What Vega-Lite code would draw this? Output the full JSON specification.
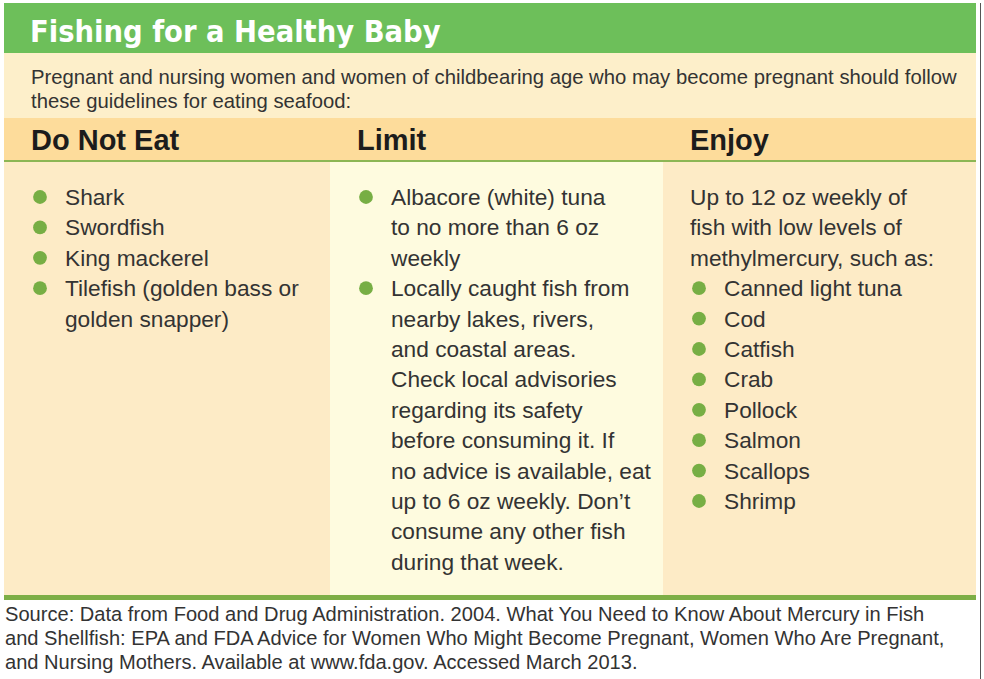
{
  "$schema": "https://vega.github.io/schema/vega-lite/v6.json",
  "padding": {"left": 4, "top": 3, "right": 0, "bottom": 0},
  "background": "white",
  "config": {
    "view": {"stroke": null},
    "concat": {"spacing": 0},
    "text": {"font": "Liberation Sans", "color": "#333333", "align": "left", "baseline": "alphabetic"}
  },
  "datasets": {
    "title": [{"line": 1, "level": 0, "text": "Fishing for a Healthy Baby"}],
    "intro": [
      {"line": 1, "level": 0, "text": "Pregnant and nursing women and women of childbearing age who may become pregnant should follow"},
      {"line": 2, "level": 0, "text": "these guidelines for eating seafood:"}
    ],
    "heads": [
      {"col": "Do Not Eat", "line": 1, "level": 0, "text": "Do Not Eat"},
      {"col": "Limit", "line": 1, "level": 0, "text": "Limit"},
      {"col": "Enjoy", "line": 1, "level": 0, "text": "Enjoy"}
    ],
    "body": [
      {"col": "Do Not Eat", "line": 1, "level": 1, "bullet": true, "text": "Shark"},
      {"col": "Do Not Eat", "line": 2, "level": 1, "bullet": true, "text": "Swordfish"},
      {"col": "Do Not Eat", "line": 3, "level": 1, "bullet": true, "text": "King mackerel"},
      {"col": "Do Not Eat", "line": 4, "level": 1, "bullet": true, "text": "Tilefish (golden bass or"},
      {"col": "Do Not Eat", "line": 5, "level": 1, "bullet": false, "text": "golden snapper)"},
      {"col": "Limit", "line": 1, "level": 1, "bullet": true, "text": "Albacore (white) tuna"},
      {"col": "Limit", "line": 2, "level": 1, "bullet": false, "text": "to no more than 6 oz"},
      {"col": "Limit", "line": 3, "level": 1, "bullet": false, "text": "weekly"},
      {"col": "Limit", "line": 4, "level": 1, "bullet": true, "text": "Locally caught fish from"},
      {"col": "Limit", "line": 5, "level": 1, "bullet": false, "text": "nearby lakes, rivers,"},
      {"col": "Limit", "line": 6, "level": 1, "bullet": false, "text": "and coastal areas."},
      {"col": "Limit", "line": 7, "level": 1, "bullet": false, "text": "Check local advisories"},
      {"col": "Limit", "line": 8, "level": 1, "bullet": false, "text": "regarding its safety"},
      {"col": "Limit", "line": 9, "level": 1, "bullet": false, "text": "before consuming it. If"},
      {"col": "Limit", "line": 10, "level": 1, "bullet": false, "text": "no advice is available, eat"},
      {"col": "Limit", "line": 11, "level": 1, "bullet": false, "text": "up to 6 oz weekly. Don’t"},
      {"col": "Limit", "line": 12, "level": 1, "bullet": false, "text": "consume any other fish"},
      {"col": "Limit", "line": 13, "level": 1, "bullet": false, "text": "during that week."},
      {"col": "Enjoy", "line": 1, "level": 0, "bullet": false, "text": "Up to 12 oz weekly of"},
      {"col": "Enjoy", "line": 2, "level": 0, "bullet": false, "text": "fish with low levels of"},
      {"col": "Enjoy", "line": 3, "level": 0, "bullet": false, "text": "methylmercury, such as:"},
      {"col": "Enjoy", "line": 4, "level": 1, "bullet": true, "text": "Canned light tuna"},
      {"col": "Enjoy", "line": 5, "level": 1, "bullet": true, "text": "Cod"},
      {"col": "Enjoy", "line": 6, "level": 1, "bullet": true, "text": "Catfish"},
      {"col": "Enjoy", "line": 7, "level": 1, "bullet": true, "text": "Crab"},
      {"col": "Enjoy", "line": 8, "level": 1, "bullet": true, "text": "Pollock"},
      {"col": "Enjoy", "line": 9, "level": 1, "bullet": true, "text": "Salmon"},
      {"col": "Enjoy", "line": 10, "level": 1, "bullet": true, "text": "Scallops"},
      {"col": "Enjoy", "line": 11, "level": 1, "bullet": true, "text": "Shrimp"}
    ],
    "source": [
      {"line": 1, "level": 0, "text": "Source: Data from Food and Drug Administration. 2004. What You Need to Know About Mercury in Fish"},
      {"line": 2, "level": 0, "text": "and Shellfish: EPA and FDA Advice for Women Who Might Become Pregnant, Women Who Are Pregnant,"},
      {"line": 3, "level": 0, "text": "and Nursing Mothers. Available at www.fda.gov. Accessed March 2013."}
    ],
    "blank": [{"part": "rule"}]
  },
  "hconcat": [
    {
      "spacing": 0,
      "vconcat": [
        {
          "width": 972, "height": 50,
          "view": {"fill": "#6dbf5a", "stroke": null},
          "data": {"name": "title"},
          "mark": {"type": "text", "font": "DejaVu Sans Condensed, Liberation Sans", "fontWeight": "bold", "fontSize": 30.5, "color": "#ffffff"},
          "encoding": {
            "x": {"field": "level", "type": "quantitative", "scale": {"domain": [0, 1], "range": [26, 60]}, "axis": null},
            "y": {"field": "line", "type": "quantitative", "scale": {"domain": [1, 2], "range": [39, 63]}, "axis": null},
            "text": {"field": "text"}
          }
        },
        {
          "width": 972, "height": 65,
          "view": {"fill": "#fdefca", "stroke": null},
          "data": {"name": "intro"},
          "mark": {"type": "text", "fontSize": 20.3},
          "encoding": {
            "x": {"field": "level", "type": "quantitative", "scale": {"domain": [0, 1], "range": [27, 61]}, "axis": null},
            "y": {"field": "line", "type": "quantitative", "scale": {"domain": [1, 2], "range": [31, 55]}, "axis": null},
            "text": {"field": "text"}
          }
        },
        {
          "spacing": 0,
          "hconcat": [
            {
              "spacing": 0,
              "vconcat": [
                {
                  "width": 326, "height": 42,
                  "view": {"fill": "#fddc9b", "stroke": null},
                  "data": {"name": "heads"},
                  "transform": [{"filter": "datum.col === 'Do Not Eat'"}],
                  "mark": {"type": "text", "fontSize": 29, "fontWeight": "bold", "color": "#1c1c1c"},
                  "encoding": {
                    "x": {"field": "level", "type": "quantitative", "scale": {"domain": [0, 1], "range": [27, 61]}, "axis": null},
                    "y": {"field": "line", "type": "quantitative", "scale": {"domain": [1, 2], "range": [32, 62]}, "axis": null},
                    "text": {"field": "text"}
                  }
                },
                {
                  "width": 326, "height": 2,
                  "data": {"name": "blank"},
                  "mark": {"type": "rect", "color": "#8cb654"},
                  "encoding": {}
                },
                {
                  "width": 326, "height": 433,
                  "view": {"fill": "#fdebc6", "stroke": null},
                  "data": {"name": "body"},
                  "transform": [{"filter": "datum.col === 'Do Not Eat'"}],
                  "layer": [
                    {
                      "transform": [{"filter": "datum.bullet"}],
                      "mark": {"type": "circle", "size": 190, "opacity": 1, "color": "#77ae44", "xOffset": -25, "yOffset": -8},
                      "encoding": {
                        "x": {"field": "level", "type": "quantitative", "scale": {"domain": [0, 1], "range": [27, 61]}, "axis": null},
                        "y": {"field": "line", "type": "quantitative", "scale": {"domain": [1, 13], "range": [43, 407.8]}, "axis": null}
                      }
                    },
                    {
                      "mark": {"type": "text", "fontSize": 22.7},
                      "encoding": {
                        "x": {"field": "level", "type": "quantitative", "scale": {"domain": [0, 1], "range": [27, 61]}, "axis": null},
                        "y": {"field": "line", "type": "quantitative", "scale": {"domain": [1, 13], "range": [43, 407.8]}, "axis": null},
                        "text": {"field": "text"}
                      }
                    }
                  ]
                }
              ]
            },
            {
              "spacing": 0,
              "vconcat": [
                {
                  "width": 333, "height": 42,
                  "view": {"fill": "#fddc9b", "stroke": null},
                  "data": {"name": "heads"},
                  "transform": [{"filter": "datum.col === 'Limit'"}],
                  "mark": {"type": "text", "fontSize": 29, "fontWeight": "bold", "color": "#1c1c1c"},
                  "encoding": {
                    "x": {"field": "level", "type": "quantitative", "scale": {"domain": [0, 1], "range": [27, 61]}, "axis": null},
                    "y": {"field": "line", "type": "quantitative", "scale": {"domain": [1, 2], "range": [32, 62]}, "axis": null},
                    "text": {"field": "text"}
                  }
                },
                {
                  "width": 333, "height": 2,
                  "data": {"name": "blank"},
                  "mark": {"type": "rect", "color": "#8cb654"},
                  "encoding": {}
                },
                {
                  "width": 333, "height": 433,
                  "view": {"fill": "#fefbdf", "stroke": null},
                  "data": {"name": "body"},
                  "transform": [{"filter": "datum.col === 'Limit'"}],
                  "layer": [
                    {
                      "transform": [{"filter": "datum.bullet"}],
                      "mark": {"type": "circle", "size": 190, "opacity": 1, "color": "#77ae44", "xOffset": -25, "yOffset": -8},
                      "encoding": {
                        "x": {"field": "level", "type": "quantitative", "scale": {"domain": [0, 1], "range": [27, 61]}, "axis": null},
                        "y": {"field": "line", "type": "quantitative", "scale": {"domain": [1, 13], "range": [43, 407.8]}, "axis": null}
                      }
                    },
                    {
                      "mark": {"type": "text", "fontSize": 22.7},
                      "encoding": {
                        "x": {"field": "level", "type": "quantitative", "scale": {"domain": [0, 1], "range": [27, 61]}, "axis": null},
                        "y": {"field": "line", "type": "quantitative", "scale": {"domain": [1, 13], "range": [43, 407.8]}, "axis": null},
                        "text": {"field": "text"}
                      }
                    }
                  ]
                }
              ]
            },
            {
              "spacing": 0,
              "vconcat": [
                {
                  "width": 313, "height": 42,
                  "view": {"fill": "#fddc9b", "stroke": null},
                  "data": {"name": "heads"},
                  "transform": [{"filter": "datum.col === 'Enjoy'"}],
                  "mark": {"type": "text", "fontSize": 29, "fontWeight": "bold", "color": "#1c1c1c"},
                  "encoding": {
                    "x": {"field": "level", "type": "quantitative", "scale": {"domain": [0, 1], "range": [27, 61]}, "axis": null},
                    "y": {"field": "line", "type": "quantitative", "scale": {"domain": [1, 2], "range": [32, 62]}, "axis": null},
                    "text": {"field": "text"}
                  }
                },
                {
                  "width": 313, "height": 2,
                  "data": {"name": "blank"},
                  "mark": {"type": "rect", "color": "#8cb654"},
                  "encoding": {}
                },
                {
                  "width": 313, "height": 433,
                  "view": {"fill": "#fdebc6", "stroke": null},
                  "data": {"name": "body"},
                  "transform": [{"filter": "datum.col === 'Enjoy'"}],
                  "layer": [
                    {
                      "transform": [{"filter": "datum.bullet"}],
                      "mark": {"type": "circle", "size": 190, "opacity": 1, "color": "#77ae44", "xOffset": -25, "yOffset": -8},
                      "encoding": {
                        "x": {"field": "level", "type": "quantitative", "scale": {"domain": [0, 1], "range": [27, 61]}, "axis": null},
                        "y": {"field": "line", "type": "quantitative", "scale": {"domain": [1, 13], "range": [43, 407.8]}, "axis": null}
                      }
                    },
                    {
                      "mark": {"type": "text", "fontSize": 22.7},
                      "encoding": {
                        "x": {"field": "level", "type": "quantitative", "scale": {"domain": [0, 1], "range": [27, 61]}, "axis": null},
                        "y": {"field": "line", "type": "quantitative", "scale": {"domain": [1, 13], "range": [43, 407.8]}, "axis": null},
                        "text": {"field": "text"}
                      }
                    }
                  ]
                }
              ]
            }
          ]
        },
        {
          "width": 972, "height": 5,
          "data": {"name": "blank"},
          "mark": {"type": "rect", "color": "#7dae46"},
          "encoding": {}
        },
        {
          "width": 972, "height": 76,
          "data": {"name": "source"},
          "mark": {"type": "text", "fontSize": 20.1},
          "encoding": {
            "x": {"field": "level", "type": "quantitative", "scale": {"domain": [0, 1], "range": [1, 35]}, "axis": null},
            "y": {"field": "line", "type": "quantitative", "scale": {"domain": [1, 3], "range": [21, 69]}, "axis": null},
            "text": {"field": "text"}
          }
        }
      ]
    },
    {
      "width": 1, "height": 676,
      "data": {"name": "blank"},
      "mark": {"type": "rect", "color": "#555555"},
      "encoding": {}
    }
  ],
  "spacing": 4
}
